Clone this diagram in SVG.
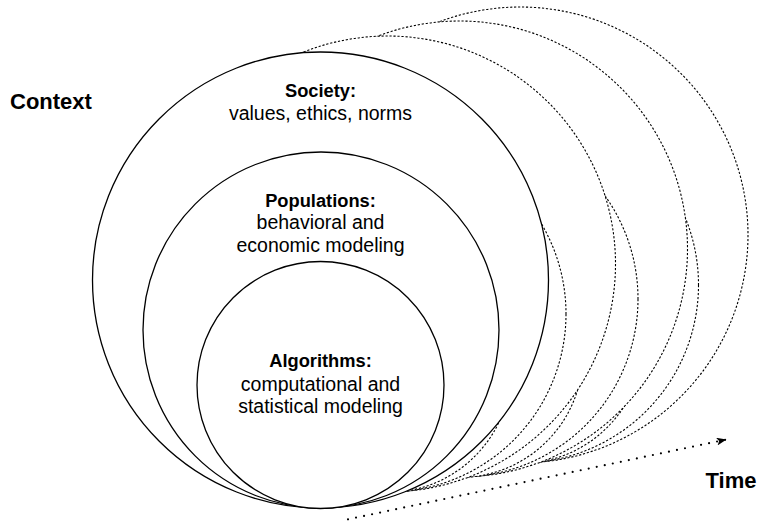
<svg xmlns="http://www.w3.org/2000/svg" xmlns:xlink="http://www.w3.org/1999/xlink" width="759" height="522" viewBox="0 0 759 522">
  <style>
    .solid { fill: #ffffff; stroke: #000000; stroke-width: 1.3; }
    .ghost { fill: #ffffff; stroke: #000000; stroke-width: 1.1; stroke-dasharray: 2.2 1.8; }
    .heading { font-family: "Liberation Sans", Arial, Helvetica, sans-serif; font-weight: bold; font-size: 18.3px; text-anchor: middle; fill: #000000; }
    .detail { font-family: "Liberation Sans", Arial, Helvetica, sans-serif; font-size: 19.5px; text-anchor: middle; fill: #000000; }
    .axis-label { font-family: "Liberation Sans", Arial, Helvetica, sans-serif; font-weight: bold; font-size: 22px; fill: #000000; }
    .timeline { fill: none; stroke: #000000; stroke-width: 2.2; stroke-linecap: round; stroke-dasharray: 0 8.2; }
  </style>
  <defs>
    <marker id="arrowhead" viewBox="0 0 10 8" refX="10" refY="4" markerWidth="10" markerHeight="8" markerUnits="userSpaceOnUse" orient="auto">
      <path d="M0,0 L10,4 L0,8 L2.5,4 Z" fill="#000000"/>
    </marker>
    <!-- one set of nested rings, re-used for each later point in time -->
    <g id="ghost-rings">
      <circle class="ghost" cx="320.5" cy="280" r="228"/>
      <circle class="ghost" cx="321" cy="330" r="178"/>
      <circle class="ghost" cx="320.5" cy="385" r="123.5"/>
    </g>
  </defs>

  <!-- later states, drawn back to front so each front disc hides the one behind -->
  <g id="time-steps">
    <use id="step-3" xlink:href="#ghost-rings" transform="translate(199.5,-45)"/>
    <use id="step-2" xlink:href="#ghost-rings" transform="translate(139,-31)"/>
    <use id="step-1" xlink:href="#ghost-rings" transform="translate(67,-16)"/>
  </g>

  <!-- present state -->
  <g id="society">
    <circle class="solid" cx="320.5" cy="280" r="228"/>
    <text class="heading" x="320.5" y="97.3">Society:</text>
    <text class="detail" x="320.5" y="120">values, ethics, norms</text>
  </g>
  <g id="populations">
    <circle class="solid" cx="321" cy="330" r="178"/>
    <text class="heading" x="320.5" y="206.7">Populations:</text>
    <text class="detail" x="320.5" y="229.3">behavioral and</text>
    <text class="detail" x="320.5" y="252">economic modeling</text>
  </g>
  <g id="algorithms">
    <circle class="solid" cx="320.5" cy="385" r="123.5"/>
    <text class="heading" x="320.5" y="366.7">Algorithms:</text>
    <text class="detail" x="320.5" y="390.7">computational and</text>
    <text class="detail" x="320.5" y="413.3">statistical modeling</text>
  </g>

  <g id="connectors">
    <path id="time-axis" class="timeline" d="M348,519.3 L726.5,439.5" marker-end="url(#arrowhead)"/>
  </g>

  <g id="labels">
    <text id="context-label" class="axis-label" x="10" y="109.3">Context</text>
    <text id="time-label" class="axis-label" x="705.5" y="488">Time</text>
  </g>
</svg>
